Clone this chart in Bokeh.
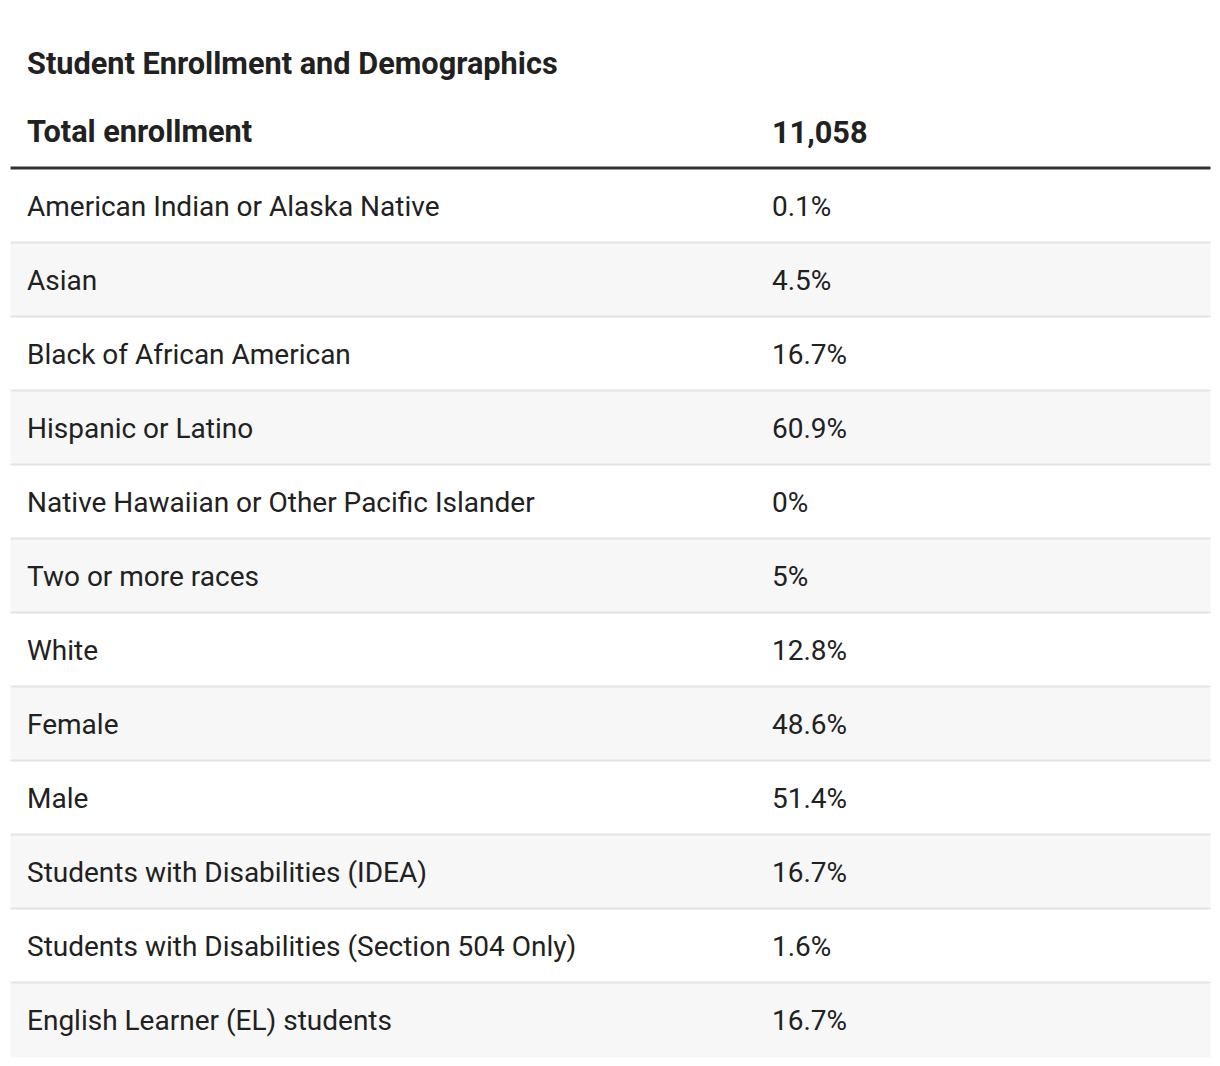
from bokeh.plotting import figure
from bokeh.models import Range1d, ColumnDataSource
from bokeh.core.properties import value
from bokeh.embed import file_html
from bokeh.resources import INLINE

title_text = "Student Enrollment and Demographics"
header_label = "Total enrollment"
header_value = "11,058"
categories = [
    "American Indian or Alaska Native",
    "Asian",
    "Black of African American",
    "Hispanic or Latino",
    "Native Hawaiian or Other Pacific Islander",
    "Two or more races",
    "White",
    "Female",
    "Male",
    "Students with Disabilities (IDEA)",
    "Students with Disabilities (Section 504 Only)",
    "English Learner (EL) students",
]
values = ["0.1%", "4.5%", "16.7%", "60.9%", "0%", "5%", "12.8%",
          "48.6%", "51.4%", "16.7%", "1.6%", "16.7%"]

W, H = 1212, 1058
p = figure(width=W, height=H, output_backend="svg", toolbar_location=None,
           x_range=Range1d(0, W), y_range=Range1d(H, 0), min_border=0)
p.axis.visible = False
p.grid.visible = False
p.outline_line_color = None
p.background_fill_color = "white"
p.border_fill_color = "white"

FONT = value("Roboto")
TXT = "#212121"
LEFT, RIGHT = 10, 1210
X_LABEL, X_VALUE = 26.5, 771.5
ROW_TOP0, ROW_H = 169, 74

n = len(categories)
tops = [ROW_TOP0 + ROW_H * i for i in range(n)]
bottoms = [t + ROW_H for t in tops]
fills = ["#ffffff" if i % 2 == 0 else "#f7f7f7" for i in range(n)]
centers = [t + ROW_H / 2 for t in tops]

src = ColumnDataSource(dict(top=tops, bottom=bottoms, fill=fills, y=centers,
                            cat=categories, val=values))
p.quad(left=LEFT, right=RIGHT, top="top", bottom="bottom", fill_color="fill",
       line_color=None, source=src)

# row separators (not after last row)
sep_y = [b - 1 for b in bottoms[:-1]]
p.segment(x0=LEFT, x1=RIGHT, y0=sep_y, y1=sep_y, line_color="#e3e3e3", line_width=2)

# header thick rule
p.segment(x0=[LEFT], x1=[RIGHT], y0=[ROW_TOP0 - 1.5], y1=[ROW_TOP0 - 1.5],
          line_color="#333333", line_width=3)

p.text(x=X_LABEL, y="y", text="cat", source=src, text_font=FONT,
       text_font_size="28px", text_color=TXT, text_baseline="middle")
p.text(x=X_VALUE, y="y", text="val", source=src, text_font=FONT,
       text_font_size="28px", text_color=TXT, text_baseline="middle")

p.text(x=[X_LABEL], y=[131], text=[header_label], text_font=FONT,
       text_font_size="30.7px", text_font_style="bold", text_color=TXT,
       text_baseline="middle")
p.text(x=[X_VALUE], y=[131], text=[header_value], text_font=FONT,
       text_font_size="30.7px", text_font_style="bold", text_color=TXT,
       text_baseline="middle")
p.text(x=[X_LABEL], y=[63], text=[title_text], text_font=FONT,
       text_font_size="30.7px", text_font_style="bold", text_color=TXT,
       text_baseline="middle")

open("out.html", "w").write(file_html(p, INLINE))
